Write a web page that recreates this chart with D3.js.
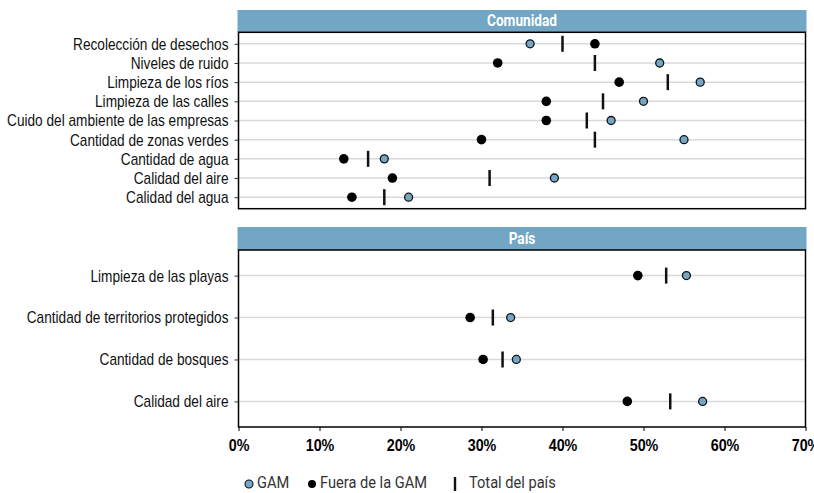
<!DOCTYPE html>
<html><head><meta charset="utf-8">
<script src="https://cdn.jsdelivr.net/npm/d3@7"></script>
<style>
body{margin:0;background:#fff;}
svg{font-family:Roboto,"Noto Sans",sans-serif;}
</style></head><body>
<svg id="c" width="814" height="493"></svg>
<script>
// Comunidad panel
const comCategories = ["Recolección de desechos","Niveles de ruido","Limpieza de los ríos","Limpieza de las calles","Cuido del ambiente de las empresas","Cantidad de zonas verdes","Cantidad de agua","Calidad del aire","Calidad del agua"];
const comGAM   = [36,52,57,50,46,55,18,39,21];
const comFuera = [44,32,47,38,38,30,13,19,14];
const comTotal = [40,44,53,45,43,44,16,31,18];
// País panel
const paisCategories = ["Limpieza de las playas","Cantidad de territorios protegidos","Cantidad de bosques","Calidad del aire"];
const paisGAM   = [55.3,33.6,34.3,57.3];
const paisFuera = [49.3,28.6,30.2,48.0];
const paisTotal = [52.8,31.4,32.6,53.3];
const xTicks = [0,10,20,30,40,50,60,70];
const panelTitles = ["Comunidad","País"];
const legendLabels = ["GAM","Fuera de la GAM","Total del país"];

const svg = d3.select("#c");
const left = 238.5, right = 805.5;
const x = d3.scaleLinear().domain([0,70]).range([left,right]);
const blue = "#73a7c4", header = "#72a6c4";

// horizontal condensing helper (emulates a condensed typeface)
function condense(sel, k){
  sel.each(function(){
    const w = this.getComputedTextLength();
    d3.select(this).attr("textLength", w*k).attr("lengthAdjust","spacingAndGlyphs");
  });
}
function kFor(str, size, weight, target){
  const t = svg.append("text").attr("font-size",size).attr("font-weight",weight).text(str);
  const w = t.node().getComputedTextLength(); t.remove();
  return target / w;
}
const labelSize = 17;
const kLabel = kFor(comCategories[4], labelSize, "normal", 220);
const kTick = kFor("10%", 17, "bold", 27);
const kHead = kFor(panelTitles[0], 16, "bold", 70);
const kLeg = kFor(legendLabels[1], 17, "normal", 107);

const panels = [
  {title: panelTitles[0], cats: comCategories, gam: comGAM, fuera: comFuera, total: comTotal, hTop: 10, top: 32.3, bottom: 208.7, pad: 0.6},
  {title: panelTitles[1], cats: paisCategories, gam: paisGAM, fuera: paisFuera, total: paisTotal, hTop: 227, top: 250, bottom: 427, pad: 0.61}
];

panels.forEach((p, pi) => {
  const g = svg.append("g");
  const y = d3.scalePoint().domain(p.cats).range([p.top, p.bottom]).padding(p.pad);
  // header
  g.append("rect").attr("x", left-1).attr("y", p.hTop).attr("width", right-left+2).attr("height", p.top-p.hTop).attr("fill", header);
  const ht = g.append("text").attr("x", (left+right)/2).attr("y", (p.hTop+p.top)/2+1).attr("text-anchor","middle")
    .attr("dominant-baseline","middle").attr("fill","#fff").attr("font-weight","bold").attr("font-size",16).text(p.title);
  condense(ht, kHead);
  // gridlines
  g.selectAll(".grid").data(p.cats).join("line")
    .attr("x1", left).attr("x2", right).attr("y1", d=>y(d)).attr("y2", d=>y(d))
    .attr("stroke","#d9d9d9").attr("stroke-width",1.5);
  // y axis
  const ya = g.append("g").attr("transform",`translate(${left},0)`).call(d3.axisLeft(y).tickSize(4).tickPadding(6));
  ya.select(".domain").remove();
  ya.selectAll(".tick line").attr("stroke","#333");
  ya.selectAll("text").attr("font-size",labelSize).attr("fill","#111").attr("font-family",null);
  condense(ya.selectAll("text"), kLabel);
  // border
  g.append("rect").attr("x",left).attr("y",p.top).attr("width",right-left).attr("height",p.bottom-p.top)
    .attr("fill","none").attr("stroke","#000").attr("stroke-width",1.5);
  // totals
  g.selectAll(".tot").data(p.cats).join("line")
    .attr("x1",(d,i)=>x(p.total[i])).attr("x2",(d,i)=>x(p.total[i]))
    .attr("y1",d=>y(d)-8).attr("y2",d=>y(d)+8).attr("stroke","#111").attr("stroke-width",2.5);
  // fuera
  g.selectAll(".fu").data(p.cats).join("circle")
    .attr("cx",(d,i)=>x(p.fuera[i])).attr("cy",d=>y(d)).attr("r",4.8).attr("fill","#000");
  // gam
  g.selectAll(".ga").data(p.cats).join("circle")
    .attr("cx",(d,i)=>x(p.gam[i])).attr("cy",d=>y(d)).attr("r",4).attr("fill",blue).attr("stroke","#111").attr("stroke-width",1.3);
  if (pi === 1) {
    const xa = g.append("g").attr("transform",`translate(0,${p.bottom})`)
      .call(d3.axisBottom(x).tickValues(xTicks).tickFormat(d=>d+"%").tickSize(4).tickPadding(8));
    xa.select(".domain").remove();
    xa.selectAll(".tick line").attr("stroke","#000");
    xa.selectAll("text").attr("font-size",17).attr("font-weight","bold").attr("fill","#000").attr("font-family",null);
    condense(xa.selectAll("text"), kTick);
  }
});

// legend
const lg = svg.append("g").attr("font-size",17).attr("fill","#333");
const ly = 484;
lg.append("circle").attr("cx",249).attr("cy",ly).attr("r",4).attr("fill",blue).attr("stroke","#111").attr("stroke-width",1.1);
const t1 = lg.append("text").attr("x",257).attr("y",ly).attr("dominant-baseline","middle").text(legendLabels[0]);
lg.append("circle").attr("cx",312).attr("cy",ly).attr("r",4).attr("fill","#000");
const t2 = lg.append("text").attr("x",320).attr("y",ly).attr("dominant-baseline","middle").text(legendLabels[1]);
lg.append("line").attr("x1",455).attr("x2",455).attr("y1",ly-7).attr("y2",ly+7).attr("stroke","#111").attr("stroke-width",2.4);
const t3 = lg.append("text").attr("x",469).attr("y",ly).attr("dominant-baseline","middle").text(legendLabels[2]);
condense(lg.selectAll("text"), kLeg);
</script></body></html>
